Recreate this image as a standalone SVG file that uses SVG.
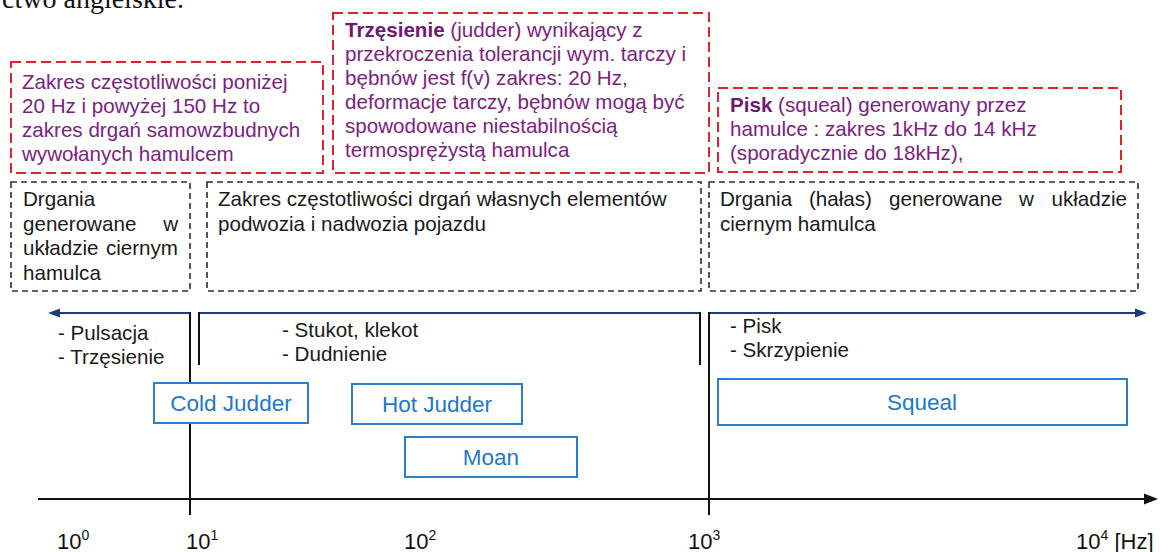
<svg xmlns="http://www.w3.org/2000/svg" width="1160" height="552" viewBox="0 0 1160 552">
<style>
.red{fill:none;stroke:#e0222c;stroke-width:2;stroke-dasharray:10 5}
.blk{fill:none;stroke:#2e2e2e;stroke-width:1.6;stroke-dasharray:6 4}
.pt{font-family:"Liberation Sans",Arial,sans-serif;font-size:20.6px;fill:#7d2181}
.b{font-weight:bold;fill:#6e1a72}
.t{font-family:"Liberation Sans",Arial,sans-serif;font-size:20.6px;fill:#1a1a1a}
.bt{font-family:"Liberation Sans",Arial,sans-serif;font-size:22.5px;fill:#1f78c8;text-anchor:middle}
.bb{fill:#fff;stroke:#2b7fc9;stroke-width:2}
.ax{font-family:"Liberation Sans",Arial,sans-serif;font-size:22px;fill:#111}
.nv{stroke:#1f3c7c;stroke-width:2;fill:none}
.k{stroke:#111;stroke-width:2;fill:none}
</style>
<rect width="1160" height="552" fill="#fff"/>
<text x="184" y="8" text-anchor="end" font-family="Liberation Serif,serif" font-size="28" fill="#111">ctwo angielskie.</text>

<g id="box-low-high">
<rect class="red" x="11" y="62" width="312" height="111"/>
<text class="pt" x="22"><tspan x="22" y="89">Zakres częstotliwości poniżej</tspan><tspan x="22" y="113">20 Hz i powyżej 150 Hz to</tspan><tspan x="22" y="137">zakres drgań samowzbudnych</tspan><tspan x="22" y="161">wywołanych hamulcem</tspan></text>
</g>
<g id="box-judder">
<rect class="red" x="333" y="13" width="376" height="160"/>
<text class="pt"><tspan x="345" y="37"><tspan class="b">Trzęsienie</tspan> (judder) wynikający z</tspan><tspan x="345" y="61">przekroczenia tolerancji wym. tarczy i</tspan><tspan x="345" y="85">bębnów jest f(v) zakres: 20 Hz,</tspan><tspan x="345" y="109">deformacje tarczy, bębnów mogą być</tspan><tspan x="345" y="133">spowodowane niestabilnością</tspan><tspan x="345" y="157">termosprężystą hamulca</tspan></text>
</g>
<g id="box-squeal-desc">
<rect class="red" x="718" y="88" width="403" height="84"/>
<text class="pt"><tspan x="730" y="112"><tspan class="b">Pisk</tspan> (squeal) generowany przez</tspan><tspan x="730" y="136">hamulce : zakres 1kHz do 14 kHz</tspan><tspan x="730" y="160">(sporadycznie do 18kHz),</tspan></text>
</g>

<g id="box-friction-low">
<rect class="blk" x="11" y="182" width="179" height="109"/>
<text class="t" x="23" y="206">Drgania</text>
<text class="t" x="23" y="230.5">generowane</text>
<text class="t" x="178" y="230.5" text-anchor="end">w</text>
<text class="t" x="23" y="255">układzie</text>
<text class="t" x="178" y="255" text-anchor="end">ciernym</text>
<text class="t" x="23" y="279.5">hamulca</text>
</g>
<g id="box-chassis">
<rect class="blk" x="207" y="182" width="494" height="109"/>
<text class="t"><tspan x="218" y="206">Zakres częstotliwości drgań własnych elementów</tspan><tspan x="218" y="230.5">podwozia i nadwozia pojazdu</tspan></text>
</g>
<g id="box-friction-high">
<rect class="blk" x="709" y="182" width="429" height="109"/>
<text class="t" y="206"><tspan x="720">Drgania</tspan><tspan x="809">(hałas)</tspan><tspan x="889">generowane</tspan><tspan x="1019">w</tspan></text>
<text class="t" x="1127" y="206" text-anchor="end">układzie</text>
<text class="t" x="720" y="230.5">ciernym hamulca</text>
</g>

<g id="connectors">
<line class="nv" x1="56" y1="313" x2="191" y2="313"/>
<polygon points="48,313 60,308.5 60,317.5" fill="#1f3c7c"/>
<line class="nv" x1="198" y1="313" x2="701" y2="313"/>
<line class="nv" x1="708" y1="313" x2="1138" y2="313"/>
<polygon points="1147,313 1135,308.5 1135,317.5" fill="#1f3c7c"/>
<line class="k" x1="190" y1="312" x2="190" y2="515"/>
<line class="k" x1="199" y1="312" x2="199" y2="365"/>
<line class="k" x1="700" y1="312" x2="700" y2="365"/>
<line class="k" x1="709" y1="312" x2="709" y2="515"/>
<line class="k" x1="38" y1="499" x2="1146" y2="499"/>
<polygon points="1158,499 1144,493.5 1144,504.5" fill="#111"/>
</g>

<g id="labels-low">
<text class="t"><tspan x="58" y="340">- Pulsacja</tspan><tspan x="58" y="364">- Trzęsienie</tspan></text>
</g>
<g id="labels-mid">
<text class="t"><tspan x="282" y="337">- Stukot, klekot</tspan><tspan x="282" y="361">- Dudnienie</tspan></text>
</g>
<g id="labels-high">
<text class="t"><tspan x="730" y="333">- Pisk</tspan><tspan x="730" y="357">- Skrzypienie</tspan></text>
</g>

<g id="cold-judder"><rect class="bb" x="154" y="383" width="154" height="40"/><text class="bt" x="231" y="411">Cold Judder</text></g>
<g id="hot-judder"><rect class="bb" x="352" y="384" width="170" height="40"/><text class="bt" x="437" y="412">Hot Judder</text></g>
<g id="moan"><rect class="bb" x="405" y="437" width="172" height="40"/><text class="bt" x="491" y="465">Moan</text></g>
<g id="squeal"><rect class="bb" x="718" y="379" width="409" height="46"/><text class="bt" x="922" y="410">Squeal</text></g>

<g id="axis-labels">
<text class="ax" x="57" y="549">10<tspan font-size="14" dy="-9">0</tspan></text>
<text class="ax" x="186" y="549">10<tspan font-size="14" dy="-9">1</tspan></text>
<text class="ax" x="404" y="549">10<tspan font-size="14" dy="-9">2</tspan></text>
<text class="ax" x="688" y="549">10<tspan font-size="14" dy="-9">3</tspan></text>
<text class="ax" x="1076" y="549">10<tspan font-size="14" dy="-9">4</tspan><tspan dy="9"> [Hz]</tspan></text>
</g>
</svg>
